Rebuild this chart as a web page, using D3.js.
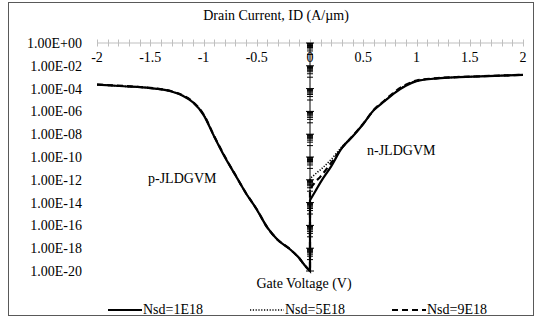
<!DOCTYPE html>
<html><head><meta charset="utf-8">
<script src="https://cdn.jsdelivr.net/npm/d3@7"></script>
<style>body{margin:0;background:#fff}svg{display:block}</style>
</head><body><svg id="c" width="536" height="320"></svg>
<script>
// Gate voltage (V)
const gateVoltage = [-2,-1.75,-1.5,-1.3,-1.2,-1.1,-1.0,-0.9,-0.8,-0.7,-0.6,-0.5,-0.4,-0.3,-0.2,-0.1,-0.05,0,
                     0,0.05,0.1,0.2,0.3,0.4,0.5,0.6,0.7,0.8,0.9,1.0,1.2,1.4,1.6,1.8,2];
// Drain current (A/um)
const nsd1E18 = [2.2e-4,1.6e-4,1.1e-4,5.6e-5,2.5e-5,6.3e-6,5.0e-7,6.3e-9,1.0e-10,2.5e-12,6.3e-14,2.5e-15,6.3e-17,5.0e-18,1.0e-18,1.3e-19,3.2e-20,1.0e-20,
                 1.6e-14,1.0e-13,6.3e-13,1.6e-11,6.3e-10,6.3e-9,7.9e-8,1.3e-6,7.9e-6,4.5e-5,1.8e-4,4.5e-4,7.9e-4,1.0e-3,1.2e-3,1.4e-3,1.6e-3];
const nsd5E18 = [2.2e-4,1.6e-4,1.1e-4,5.6e-5,2.6e-5,6.6e-6,5.3e-7,6.6e-9,1.0e-10,2.5e-12,6.3e-14,2.5e-15,6.3e-17,5.0e-18,1.0e-18,1.3e-19,3.2e-20,1.0e-20,
                 1.3e-12,3.2e-12,7.9e-12,6.3e-11,7.9e-10,6.6e-9,7.9e-8,1.3e-6,8.3e-6,4.8e-5,2.0e-4,4.7e-4,8.1e-4,1.0e-3,1.2e-3,1.4e-3,1.6e-3];
const nsd9E18 = [2.3e-4,1.7e-4,1.15e-4,5.8e-5,2.7e-5,6.8e-6,5.6e-7,7.0e-9,1.1e-10,2.6e-12,6.5e-14,2.6e-15,6.5e-17,5.2e-18,1.0e-18,1.3e-19,3.2e-20,1.0e-20,
                 1.6e-13,6.3e-13,2.0e-12,3.2e-11,6.3e-10,6.8e-9,8.5e-8,1.4e-6,9.0e-6,5.6e-5,2.2e-4,5.0e-4,8.3e-4,1.05e-3,1.2e-3,1.4e-3,1.6e-3];
const seriesNames = ["Nsd=1E18","Nsd=5E18","Nsd=9E18"];
const xTickLabels = [-2,-1.5,-1,-0.5,0,0.5,1,1.5,2];
const yTickValues = [1e0,1e-2,1e-4,1e-6,1e-8,1e-10,1e-12,1e-14,1e-16,1e-18,1e-20];
const yTickLabels = ["1.00E+00","1.00E-02","1.00E-04","1.00E-06","1.00E-08","1.00E-10","1.00E-12","1.00E-14","1.00E-16","1.00E-18","1.00E-20"];

const FONT = "Liberation Serif";
function txt(sel){ return sel.style("font-family",FONT).style("font-size","14px").attr("fill","#000"); }

const svg = d3.select("#c");
svg.append("rect").attr("x",8.5).attr("y",2.5).attr("width",525).attr("height",313)
  .attr("fill","#fff").attr("stroke","#595959").attr("stroke-width",1);

const x = d3.scaleLinear().domain([-2,2]).range([97,523]);
const y = d3.scaleLog().domain([1e-20,1]).range([271,43]);

// x axis (at I = 1)
const x0 = y(1);
const gx = svg.append("g");
gx.append("line").attr("x1",x(-2)).attr("x2",x(2)).attr("y1",x0).attr("y2",x0).attr("stroke","#bfbfbf");
const minorX = d3.range(-20,21).map(d=>d/10);
gx.selectAll("line.t").data(minorX).join("line").attr("class","t")
  .attr("x1",d=>Math.round(x(d))+0.5).attr("x2",d=>Math.round(x(d))+0.5)
  .attr("y1",x0-3.5).attr("y2",x0+3.5).attr("stroke","#bfbfbf");
txt(gx.selectAll("text").data(xTickLabels).join("text")
  .attr("x",d=>x(d)).attr("y",x0+19).attr("text-anchor","middle").text(d=>d));

// y axis (at V = 0)
const y0 = x(0);
const gy = svg.append("g");
gy.append("line").attr("x1",y0).attr("x2",y0).attr("y1",y(1)).attr("y2",y(1e-20)).attr("stroke","#000");
const minorY = [];
for (let m=0;m>=-20;m-=2){ for(let k=1;k<=9;k++){ const v=k*Math.pow(10,m-1); if(v>=1e-20) minorY.push(v);} }
gy.selectAll("line.mt").data(minorY).join("line").attr("class","mt")
  .attr("x1",y0-3).attr("x2",y0+3).attr("y1",d=>y(d)).attr("y2",d=>y(d)).attr("stroke","#000");
gy.selectAll("line.Mt").data(yTickValues).join("line").attr("class","Mt")
  .attr("x1",y0-4).attr("x2",y0+4).attr("y1",d=>y(d)).attr("y2",d=>y(d)).attr("stroke","#000");
txt(gy.selectAll("text").data(yTickValues).join("text")
  .attr("x",82).attr("y",d=>y(d)+5).attr("text-anchor","end").text((d,i)=>yTickLabels[i]));

// series
const styles = [
  {w:2.2, dash:null},
  {w:1.6, dash:"1.2,1.6"},
  {w:2.2, dash:"6,4"}
];
const allSeries = [nsd1E18,nsd5E18,nsd9E18];
const line = d3.line().x(d=>x(d[0])).y(d=>y(d[1])).curve(d3.curveMonotoneX);
allSeries.forEach((s,i)=>{
  const pts = gateVoltage.map((v,j)=>[v,s[j]]);
  const pPart = pts.slice(0,18), nPart = pts.slice(18);
  const path = (line(pPart)) + "L" + line(nPart).slice(1);
  svg.append("path").attr("d",path).attr("fill","none").attr("stroke","#000")
    .attr("stroke-width",styles[i].w).attr("stroke-dasharray",styles[i].dash);
});

// labels
txt(svg.append("text").attr("x",276).attr("y",20).attr("text-anchor","middle").text("Drain Current, ID (A/µm)"));
txt(svg.append("text").attr("x",304).attr("y",288).attr("text-anchor","middle").text("Gate Voltage (V)"));
txt(svg.append("text").attr("x",148).attr("y",183).text("p-JLDGVM"));
txt(svg.append("text").attr("x",367).attr("y",155).text("n-JLDGVM"));

// legend
const legX = [108,250,392];
seriesNames.forEach((n,i)=>{
  svg.append("line").attr("x1",legX[i]).attr("x2",legX[i]+34).attr("y1",310).attr("y2",310)
    .attr("stroke","#000").attr("stroke-width",styles[i].w).attr("stroke-dasharray",styles[i].dash);
  txt(svg.append("text").attr("x",legX[i]+35).attr("y",314).text(n));
});
</script></body></html>
